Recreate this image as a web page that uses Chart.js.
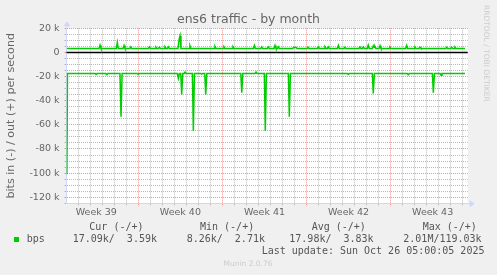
<!DOCTYPE html>
<html lang="en">
<head>
    <meta charset="UTF-8">
    <title>ens6 traffic - by month</title>
    <script src="https://cdn.jsdelivr.net/npm/chart.js"></script>
    <style>
        body {
            margin: 0;
            background: #F0F0F0;
            width: 497px;
            height: 275px;
            overflow: hidden;
            position: relative;
        }
        canvas {
            position: absolute;
            left: 0;
            top: 0;
        }
        .txt {
            position: absolute;
            white-space: pre;
            color: #555;
            font-family: "DejaVu Sans Mono", monospace;
            font-size: 10px;
            line-height: 10px;
        }
        #title {
            left: 0;
            width: 497px;
            text-align: center;
            top: 13.4px;
            font-family: "DejaVu Sans", sans-serif;
            font-size: 12.5px;
            line-height: 12.5px;
            color: #666;
        }
        #munin {
            left: 0;
            width: 496px;
            text-align: center;
            top: 260.4px;
            font-family: "DejaVu Sans", sans-serif;
            font-size: 7.5px;
            line-height: 7.5px;
            color: #CCCCCC;
        }
        #rrd {
            left: 482.3px;
            top: 5px;
            writing-mode: vertical-rl;
            font-family: "DejaVu Sans", sans-serif;
            font-size: 7.5px;
            line-height: 7.5px;
            color: #CCCCCC;
        }
        .swatch {
            position: absolute;
            left: 14px;
            top: 237px;
            width: 5px;
            height: 5px;
            background: #00CC00;
        }
    </style>
</head>
<body>
    <canvas id="chart" width="497" height="275"></canvas>

    <div class="txt" id="title">ens6 traffic - by month</div>
    <div class="txt" id="rrd">RRDTOOL / TOBI OETIKER</div>

    <div class="txt" style="left:89.3px; top:222px">Cur (-/+)</div>
    <div class="txt" style="left:200px; top:222px">Min (-/+)</div>
    <div class="txt" style="left:311.7px; top:222px">Avg (-/+)</div>
    <div class="txt" style="left:422.7px; top:222px">Max (-/+)</div>

    <div class="swatch"></div>
    <div class="txt" style="left:26.7px; top:233.8px">bps</div>
    <div class="txt" style="left:72.7px; top:233.8px">17.09k/  3.59k</div>
    <div class="txt" style="left:186.7px; top:233.8px">8.26k/  2.71k</div>
    <div class="txt" style="left:289.3px; top:233.8px">17.98k/  3.83k</div>
    <div class="txt" style="left:403.3px; top:233.8px">2.01M/119.03k</div>

    <div class="txt" style="left:261.7px; top:245.5px">Last update: Sun Oct 26 05:00:05 2025</div>
    <div class="txt" id="munin">Munin 2.0.76</div>

    <script>
        // days counted from Monday of week 39, values in kbit/s
        const weekCenters = [3.5, 10.5, 17.5, 24.5, 31.5];
        const weekLabels = ["Week 39", "Week 40", "Week 41", "Week 42", "Week 43"];

        const inDays = [
            1.05, 1.1,
            3.4, 3.48, 3.56,
            4.29, 4.37, 4.45,
            5.47, 5.56, 5.65,
            6.92, 7.0, 7.08,
            10.25, 10.33, 10.42, 10.53, 10.61, 10.7,
            10.81, 10.89, 10.97,
            11.5, 11.58, 11.67,
            12.2, 12.28, 12.36,
            12.53, 12.61, 12.7,
            15.53, 15.61, 15.7,
            16.72, 16.8, 16.88,
            17.49, 17.57, 17.66,
            19.49, 19.57, 19.66,
            24.4, 24.48, 24.56,
            26.48, 26.56, 26.65,
            29.39, 29.47, 29.55,
            31.48, 31.56, 31.65,
            32.12, 32.2, 32.28,
            34.2
        ];
        const inKbits = [
            -101, -17.4,
            -17.4, -18.2, -17.4,
            -17.4, -18.4, -17.4,
            -17.4, -53.3, -17.4,
            -17.4, -18.2, -17.4,
            -17.4, -21.5, -17.4, -17.4, -34.8, -17.4,
            -17.4, -16.3, -17.4,
            -17.4, -65, -17.4,
            -17.4, -18.0, -17.4,
            -17.4, -34.8, -17.4,
            -17.4, -33.4, -17.4,
            -17.4, -16.3, -17.4,
            -17.4, -65, -17.4,
            -17.4, -53.3, -17.4,
            -17.4, -18.2, -17.4,
            -17.4, -34, -17.4,
            -17.4, -18.5, -17.4,
            -17.4, -33.4, -17.4,
            -17.4, -18.8, -17.4,
            -17.4
        ];

        const outDays = [
            1.05,
            3.73, 3.81, 3.89,
            5.17, 5.25, 5.33,
            5.73, 5.81, 5.89,
            6.29, 6.37, 6.45,
            7.84, 7.92, 8.0,
            8.39, 8.47, 8.55,
            8.67, 8.75, 8.83,
            9.14, 9.22, 9.3,
            9.42, 9.5, 9.58,
            10.3, 10.4, 10.47, 10.55,
            11.22, 11.3, 11.38,
            13.3, 13.38, 13.46,
            14.05, 14.13, 14.21,
            14.8, 14.88, 14.96,
            16.58, 16.66, 16.74,
            17.19, 17.27, 17.35,
            17.74, 17.82, 17.9,
            18.3, 18.38, 18.46,
            18.58, 18.66, 18.74,
            19.85, 19.92, 20.15, 20.22,
            21.05, 21.13, 21.21,
            21.91, 21.99, 22.07,
            22.46, 22.54, 22.62,
            22.74, 22.82, 22.9,
            23.57, 23.65, 23.73,
            24.12, 24.2, 24.28,
            25.37, 25.45, 25.53,
            25.65, 25.73, 25.81,
            26.06, 26.14, 26.22,
            26.48, 26.56, 26.63, 26.7, 26.78,
            27.04, 27.12, 27.2,
            27.87, 27.95, 28.03,
            29.26, 29.34, 29.42,
            29.95, 30.03, 30.11,
            30.37, 30.45, 30.53,
            32.59, 32.67, 32.75,
            33.01, 33.09, 33.17,
            33.28, 33.36, 33.44,
            34.2
        ];
        const outKbits = [
            3.3,
            3.3, 6.0, 3.3,
            3.3, 8.3, 3.3,
            3.3, 5.8, 3.3,
            3.3, 4.6, 3.3,
            3.3, 4.6, 3.3,
            3.3, 4.3, 3.3,
            3.3, 4.3, 3.3,
            3.3, 4.6, 3.3,
            3.3, 4.6, 3.3,
            3.3, 11, 13.8, 3.3,
            3.3, 5.5, 3.3,
            3.3, 4.9, 3.3,
            3.3, 4.6, 3.3,
            3.3, 4.6, 3.3,
            3.3, 5.8, 3.3,
            3.3, 4.6, 3.3,
            3.3, 4.6, 3.3,
            3.3, 5.8, 3.3,
            3.3, 4.6, 3.3,
            3.3, 4.0, 4.0, 3.3,
            3.3, 4.3, 3.3,
            3.3, 4.6, 3.3,
            3.3, 4.6, 3.3,
            3.3, 4.6, 3.3,
            3.3, 5.8, 3.3,
            3.3, 4.3, 3.3,
            3.3, 4.6, 3.3,
            3.3, 4.6, 3.3,
            3.3, 6.0, 3.3,
            3.3, 5.5, 4.2, 5.0, 3.3,
            3.3, 5.5, 3.3,
            3.3, 4.3, 3.3,
            3.3, 5.8, 3.3,
            3.3, 4.3, 3.3,
            3.3, 4.3, 3.3,
            3.3, 4.3, 3.3,
            3.3, 4.3, 3.3,
            3.3, 4.3, 3.3,
            3.3
        ];

        const GREEN = "#00CC00";
        const MINOR = "rgba(140,140,140,0.6)";
        const MAJOR = "rgba(225,80,80,0.6)";
        const AXIS = "#CFD6F8";
        const FONT = "#666666";

        const toPoints = (xs, ys) => xs.map((x, i) => ({ x: x, y: ys[i] }));

        const isWhole = v => Math.abs(v - Math.round(v)) < 0.01;
        const xGridColor = c => {
            if (!c.tick) return MINOR;
            const v = c.tick.value;
            if (!isWhole(v)) return "rgba(0,0,0,0)";
            return Math.round(v) % 7 === 0 ? MAJOR : MINOR;
        };
        const yGridColor = c => {
            if (!c.tick) return MINOR;
            return Math.round(c.tick.value) % 20 === 0 ? MAJOR : MINOR;
        };

        const munin = {
            id: "munin",
            beforeDraw(chart) {
                const { ctx, chartArea: a } = chart;
                ctx.save();
                ctx.fillStyle = "#FFFFFF";
                ctx.fillRect(a.left, a.top, a.right - a.left, a.bottom - a.top);
                ctx.restore();
            },
            beforeDatasetsDraw(chart) {
                const { ctx, chartArea: a } = chart;
                const y0 = chart.scales.y.getPixelForValue(0);
                ctx.save();
                ctx.strokeStyle = "#000000";
                ctx.lineWidth = 1.4;
                ctx.beginPath();
                ctx.moveTo(a.left, y0);
                ctx.lineTo(a.right, y0);
                ctx.stroke();
                ctx.restore();
            },
            afterDraw(chart) {
                const { ctx, chartArea: a } = chart;
                ctx.save();
                ctx.strokeStyle = AXIS;
                ctx.fillStyle = AXIS;
                ctx.lineWidth = 1;
                ctx.beginPath();
                ctx.moveTo(a.right, a.bottom + 0.5);
                ctx.lineTo(a.right + 3, a.bottom + 0.5);
                ctx.moveTo(a.left + 0.5, a.top);
                ctx.lineTo(a.left + 0.5, a.top - 3);
                ctx.stroke();
                ctx.beginPath();
                ctx.moveTo(a.right + 2, a.bottom - 3);
                ctx.lineTo(a.right + 7, a.bottom + 0.5);
                ctx.lineTo(a.right + 2, a.bottom + 4);
                ctx.closePath();
                ctx.fill();
                ctx.beginPath();
                ctx.moveTo(a.left - 3, a.top - 2);
                ctx.lineTo(a.left + 0.5, a.top - 7);
                ctx.lineTo(a.left + 4, a.top - 2);
                ctx.closePath();
                ctx.fill();
                ctx.restore();
            }
        };

        new Chart(document.getElementById("chart"), {
            type: "line",
            data: {
                datasets: [
                    {
                        label: "in",
                        data: toPoints(inDays, inKbits),
                        borderColor: GREEN,
                        borderWidth: 1.5,
                        pointRadius: 0,
                        tension: 0,
                        fill: false
                    },
                    {
                        label: "out",
                        data: toPoints(outDays, outKbits),
                        borderColor: GREEN,
                        borderWidth: 1.5,
                        pointRadius: 0,
                        tension: 0,
                        fill: false
                    }
                ]
            },
            options: {
                responsive: false,
                animation: false,
                devicePixelRatio: 1,
                layout: { padding: { top: 28.3, right: 29.3, bottom: 0, left: 0 } },
                plugins: {
                    legend: { display: false },
                    tooltip: { enabled: false },
                    title: { display: false }
                },
                scales: {
                    x: {
                        type: "linear",
                        min: 1.02,
                        max: 34.42,
                        afterFit: s => { s.height = 71.7; },
                        afterBuildTicks: s => {
                            const vals = [];
                            for (let d = 2; d <= 34; d++) vals.push(d);
                            weekCenters.forEach(w => vals.push(w));
                            vals.sort((a, b) => a - b);
                            s.ticks = vals.map(v => ({ value: v }));
                        },
                        ticks: {
                            autoSkip: false,
                            maxRotation: 0,
                            padding: 1.5,
                            color: FONT,
                            font: { family: "DejaVu Sans", size: 9.5 },
                            callback: v => {
                                const i = weekCenters.indexOf(v);
                                return i >= 0 ? weekLabels[i] : "";
                            }
                        },
                        grid: {
                            color: xGridColor,
                            tickColor: xGridColor,
                            tickLength: 2,
                            lineWidth: 1
                        },
                        border: { color: AXIS, width: 1, dash: [1, 1] }
                    },
                    y: {
                        type: "linear",
                        min: -125,
                        max: 20,
                        afterFit: s => { s.width = 66.5; },
                        title: {
                            display: true,
                            text: "bits in (-) / out (+) per second",
                            color: FONT,
                            font: { family: "DejaVu Sans", size: 11.1 },
                            padding: { top: 4 }
                        },
                        ticks: {
                            stepSize: 5,
                            autoSkip: false,
                            padding: 5,
                            color: FONT,
                            font: { family: "DejaVu Sans", size: 9.5 },
                            callback: v => {
                                const r = Math.round(v);
                                if (r % 20 !== 0) return "";
                                return r === 0 ? "0" : r + " k";
                            }
                        },
                        grid: {
                            color: yGridColor,
                            tickColor: yGridColor,
                            tickLength: 2,
                            lineWidth: 1
                        },
                        border: { color: AXIS, width: 1, dash: [1, 1] }
                    }
                }
            },
            plugins: [munin]
        });
    </script>
</body>
</html>
